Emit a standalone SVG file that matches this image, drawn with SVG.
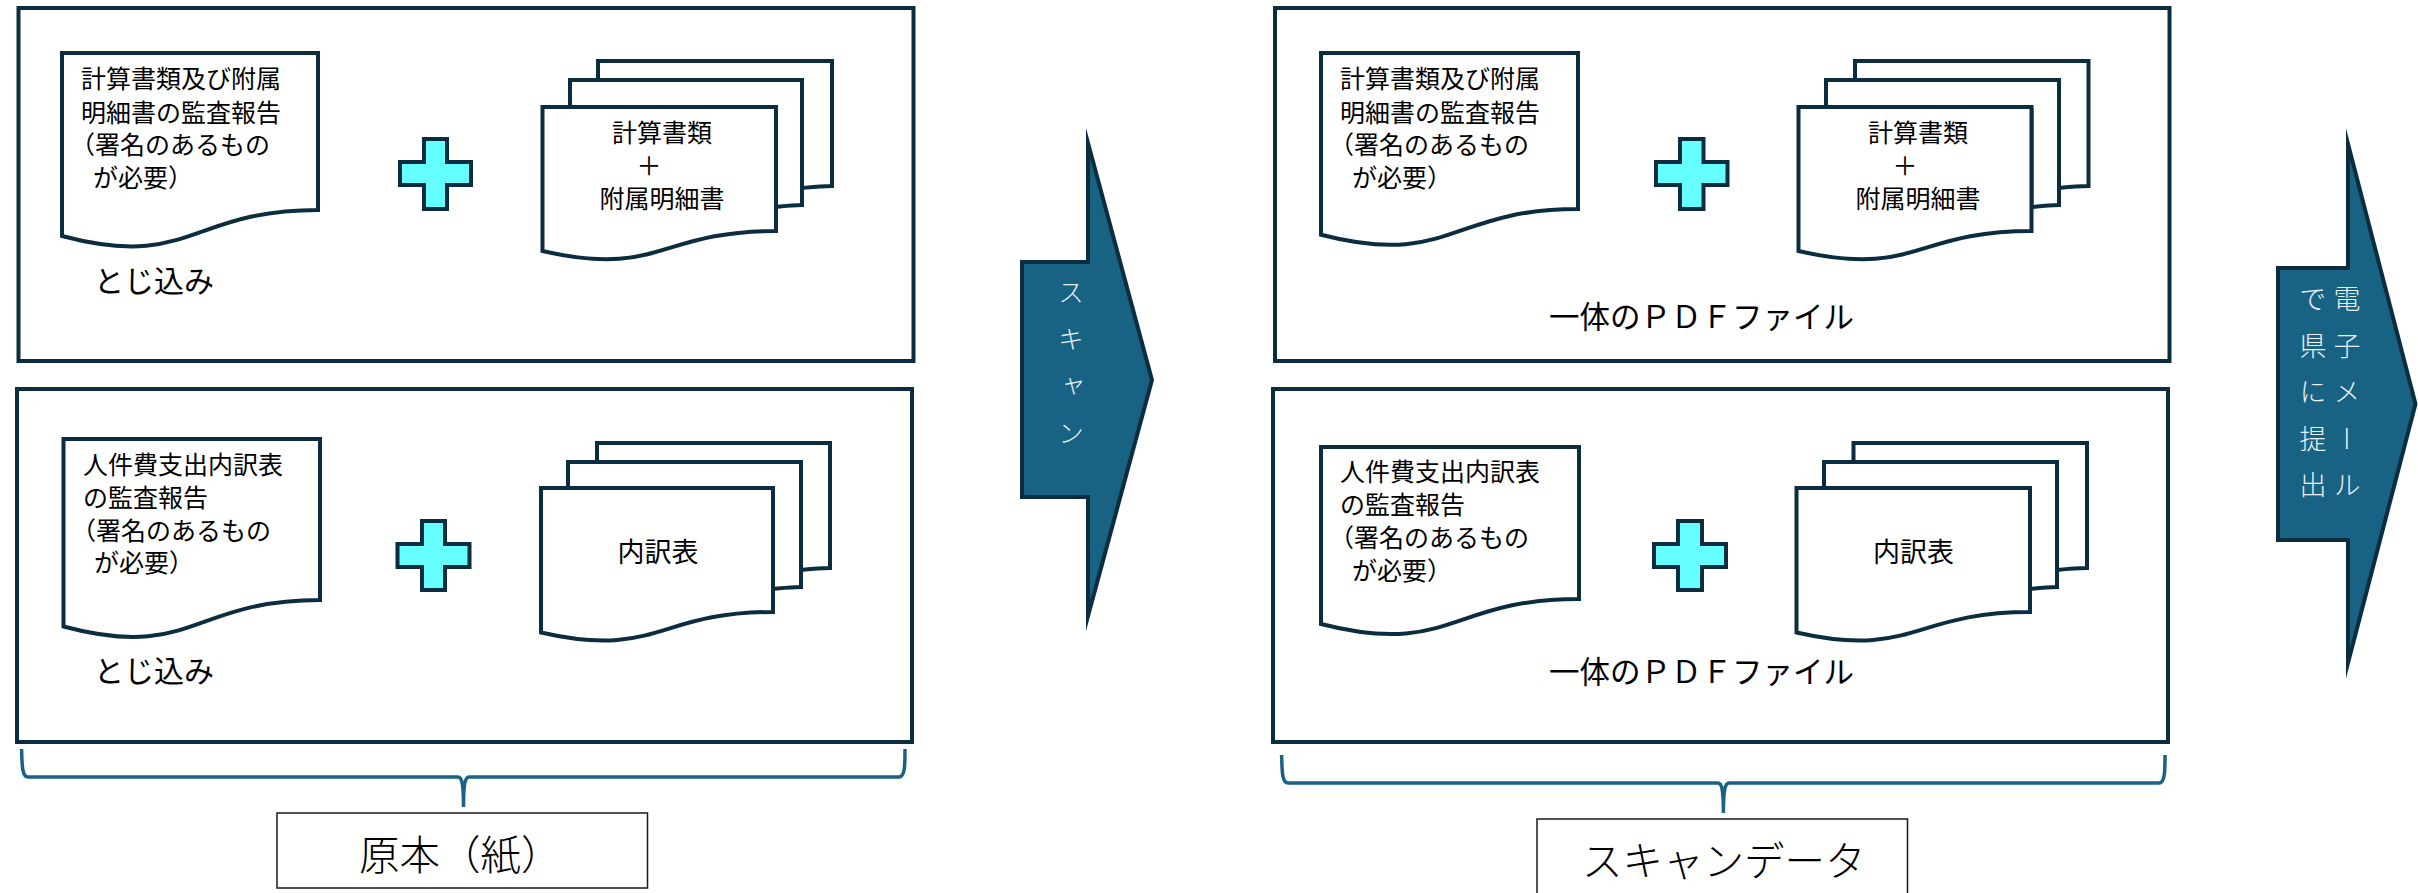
<svg xmlns="http://www.w3.org/2000/svg" width="2418" height="893" viewBox="0 0 2418 893">
<style>
text{font-family:"Noto Sans CJK JP","Noto Sans",sans-serif;fill:#000}
.box{fill:#fff;stroke:#0b2d3f;stroke-width:4}
.shape{fill:#fff;stroke:#0b2d3f;stroke-width:4;stroke-linejoin:miter}
.plus{fill:#66ffff;stroke:#0b2d3f;stroke-width:4}
.arrow{fill:#186283;stroke:#0b2d3f;stroke-width:4;stroke-miterlimit:12}
.brace{fill:none;stroke:#1a6285;stroke-width:3.5}
.cap{fill:#fff;stroke:#1a1a1a;stroke-width:1.5}
.t25{font-size:25px}
.t27{font-size:27px}
.t29{font-size:30px}
.t30{font-size:30.5px}
.t40{font-size:40.5px;font-weight:300}
.mid{text-anchor:middle}
.v{font-size:27px;font-weight:300;fill:#e8f0f4;writing-mode:vertical-rl;letter-spacing:19.5px}
.vs{font-size:26px;letter-spacing:21px}
</style>
<g id="panel-original-top">
<rect class="box" x="18.5" y="8" width="895" height="353"/>
<g id="doc-1">
<path class="shape" d="M62,53H318V210C190,210 190,270 62,236Z"/>
<text class="t25" x="81" y="88">計算書類及び附属</text>
<text class="t25" x="81" y="122">明細書の監査報告</text>
<text class="t25" x="70" y="154">（署名のあるもの</text>
<text class="t25" x="93" y="187">が必要）</text>
</g>
<path id="plus-1" class="plus" d="M424,139H447V162H471V185H447V209H424V185H400V162H424Z"/>
<g id="stack-1">
<path class="shape" d="M598,110V61H832V186C820,186 812,187 802,188V110Z"/>
<path class="shape" d="M570,110V80H802V205C792,205 785,206 776,207V110Z"/>
<path class="shape" d="M542.5,107H776V231C659,231 659,278 542.5,251Z"/>
<text class="t25 mid" x="662" y="142">計算書類</text>
<text class="t25 mid" x="649" y="175">＋</text>
<text class="t25 mid" x="662" y="208">附属明細書</text>
</g>
<text id="label-1" class="t29" x="94" y="292">とじ込み</text>
</g>
<g id="panel-original-bottom">
<rect class="box" x="17" y="389" width="895" height="353"/>
<g id="doc-2">
<path class="shape" d="M63.5,439H320V600C192,600 192,661 63.5,626.5Z"/>
<text class="t25" x="83" y="474">人件費支出内訳表</text>
<text class="t25" x="83" y="507">の監査報告</text>
<text class="t25" x="71" y="540">（署名のあるもの</text>
<text class="t25" x="94" y="572">が必要）</text>
</g>
<path id="plus-2" class="plus" d="M422,521H445V544H469.5V567H445V590H422V567H397.5V544H422Z"/>
<g id="stack-2">
<path class="shape" d="M597,490V443H830V568C818,568 810,569 801,570V490Z"/>
<path class="shape" d="M568,490V462H801V587C791,587 783,588 773,589V490Z"/>
<path class="shape" d="M541,488H773V612C657,612 657,659 541,632.5Z"/>
<text class="t27 mid" x="658" y="562">内訳表</text>
</g>
<text id="label-2" class="t29" x="94" y="682">とじ込み</text>
</g>
<g id="arrow-scan">
<path class="arrow" d="M1022,262H1088V143L1152,380L1088,616V497H1022Z"/>
<text class="v vs" x="1071" y="279">スキャン</text>
</g>
<g id="panel-scan-top">
<rect class="box" x="1275" y="8" width="894.5" height="353"/>
<g id="doc-3">
<path class="shape" d="M1321,53H1578V209C1450,209 1450,268 1321,234.7Z"/>
<text class="t25" x="1340" y="88">計算書類及び附属</text>
<text class="t25" x="1340" y="122">明細書の監査報告</text>
<text class="t25" x="1329" y="154">（署名のあるもの</text>
<text class="t25" x="1352" y="187">が必要）</text>
</g>
<path id="plus-3" class="plus" d="M1680,139H1703.5V162H1727.5V185H1703.5V209H1680V185H1656V162H1680Z"/>
<g id="stack-3">
<path class="shape" d="M1855,110V61H2088.5V186C2076,186 2068,187 2059,188V110Z"/>
<path class="shape" d="M1826,110V80H2059V205C2049,205 2041,206 2031.5,207V110Z"/>
<path class="shape" d="M1798.5,107H2031.5V231C1915,231 1915,278 1798.5,251Z"/>
<text class="t25 mid" x="1918" y="142">計算書類</text>
<text class="t25 mid" x="1905" y="175">＋</text>
<text class="t25 mid" x="1918" y="208">附属明細書</text>
</g>
<text id="label-3" class="t30" x="1549" y="328">一体のＰＤＦファイル</text>
</g>
<g id="panel-scan-bottom">
<rect class="box" x="1273" y="389" width="895" height="353"/>
<g id="doc-4">
<path class="shape" d="M1321,447H1579V599C1450,599 1450,657 1321,624Z"/>
<text class="t25" x="1340" y="481">人件費支出内訳表</text>
<text class="t25" x="1340" y="514">の監査報告</text>
<text class="t25" x="1329" y="547">（署名のあるもの</text>
<text class="t25" x="1352" y="580">が必要）</text>
</g>
<path id="plus-4" class="plus" d="M1678,521H1702V544H1726V567H1702V590H1678V567H1654V544H1678Z"/>
<g id="stack-4">
<path class="shape" d="M1853.5,490V443H2087V568C2075,568 2066,569 2057,570V490Z"/>
<path class="shape" d="M1824,490V462H2057V587C2047,587 2039,588 2030,589V490Z"/>
<path class="shape" d="M1796.5,488H2030V612C1913,612 1913,659 1796.5,632.5Z"/>
<text class="t27 mid" x="1913.5" y="562">内訳表</text>
</g>
<text id="label-4" class="t30" x="1549" y="683">一体のＰＤＦファイル</text>
</g>
<g id="arrow-submit">
<path class="arrow" d="M2278,268H2348V144L2415.5,404L2348,663V540H2278Z"/>
<text class="v" x="2347" y="285.5">電子メール</text>
<text class="v" x="2313" y="285.5">で県に提出</text>
</g>
<g id="connectors">
<path class="brace" d="M21.6,749C22,765 22,777 28,777H458C462,777 463.5,785 463.5,807C463.5,785 465,777 469,777H899C905,777 905,765 905,749"/>
<path class="brace" d="M1281.6,755C1282,771 1282,783 1288,783H1718C1722,783 1723.4,791 1723.4,813C1723.4,791 1725,783 1729,783H2159C2165,783 2165,771 2165,755"/>
</g>
<g id="caption-original">
<rect class="cap" x="277" y="813" width="370.5" height="75"/>
<text class="t40" x="359" y="870">原本（紙）</text>
</g>
<g id="caption-scan">
<rect class="cap" x="1537" y="819" width="370.5" height="80"/>
<text class="t40" x="1582" y="876">スキャンデータ</text>
</g>
</svg>
